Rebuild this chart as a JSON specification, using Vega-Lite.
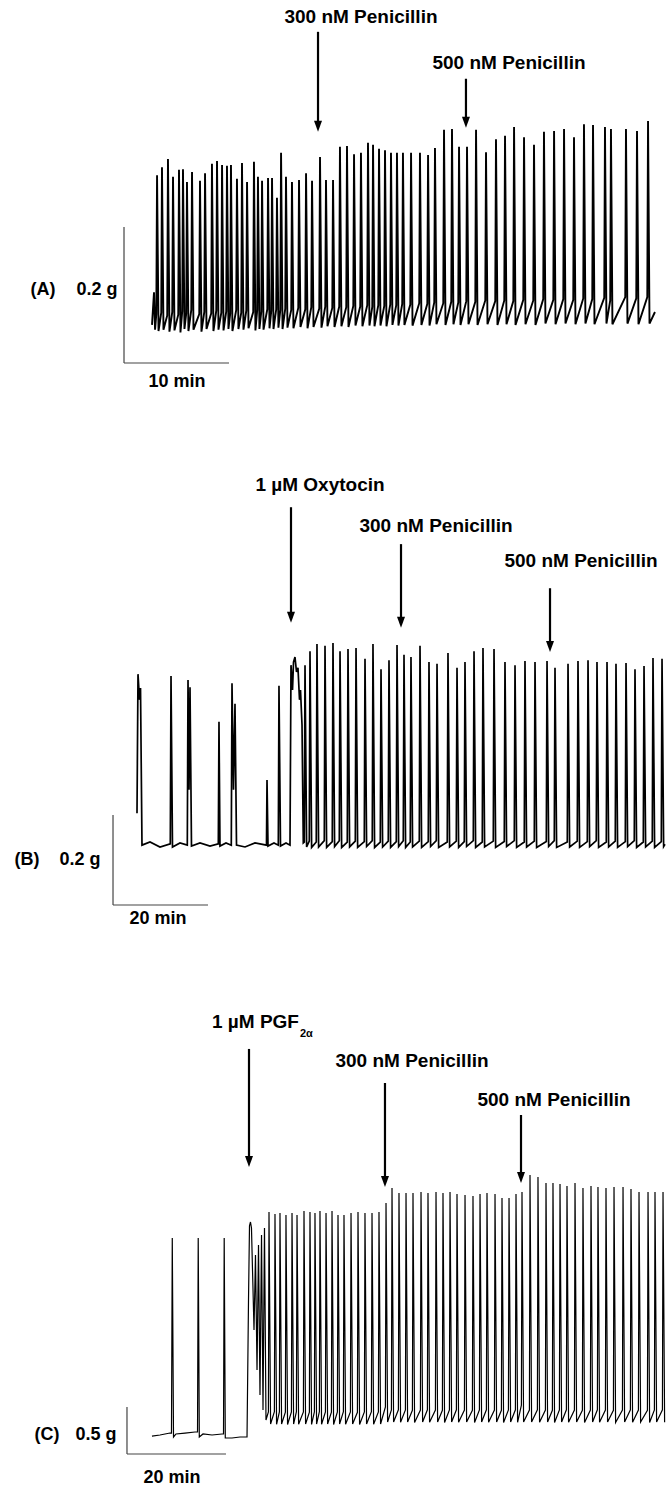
{
"$schema":"https://vega.github.io/schema/vega-lite/v6.json",
"padding":0,
"background":"white",
"spacing":0,
"config":{"view":{"stroke":null},"concat":{"spacing":0}},
"datasets":{
"A":[{"t":-0.19,"g":0.056},{"t":0,"g":0.104},{"t":0.1,"g":0.049},
{"t":0.22,"g":0.072},{"t":0.29,"g":0.276},{"t":0.43,"g":0.047},
{"t":0.69,"g":0.074},{"t":0.76,"g":0.288},{"t":0.9,"g":0.049},
{"t":1.26,"g":0.07},{"t":1.33,"g":0.3},{"t":1.47,"g":0.046},
{"t":1.74,"g":0.075},{"t":1.81,"g":0.274},{"t":1.95,"g":0.048},
{"t":2.31,"g":0.071},{"t":2.38,"g":0.284},{"t":2.52,"g":0.045},
{"t":2.69,"g":0.076},{"t":2.76,"g":0.285},{"t":2.9,"g":0.05},
{"t":3.07,"g":0.073},{"t":3.14,"g":0.266},{"t":3.28,"g":0.047},
{"t":3.55,"g":0.078},{"t":3.62,"g":0.281},{"t":3.76,"g":0.049},
{"t":4.31,"g":0.072},{"t":4.38,"g":0.268},{"t":4.52,"g":0.046},
{"t":4.79,"g":0.075},{"t":4.86,"g":0.279},{"t":5.0,"g":0.05},
{"t":5.45,"g":0.073},{"t":5.52,"g":0.293},{"t":5.66,"g":0.047},
{"t":5.93,"g":0.077},{"t":6.0,"g":0.297},{"t":6.14,"g":0.049},
{"t":6.41,"g":0.074},{"t":6.48,"g":0.291},{"t":6.62,"g":0.048},
{"t":6.88,"g":0.076},{"t":6.95,"g":0.29},{"t":7.09,"g":0.05},
{"t":7.26,"g":0.073},{"t":7.33,"g":0.291},{"t":7.47,"g":0.047},
{"t":7.83,"g":0.078},{"t":7.9,"g":0.271},{"t":8.04,"g":0.05},
{"t":8.31,"g":0.074},{"t":8.38,"g":0.294},{"t":8.52,"g":0.049},
{"t":8.79,"g":0.077},{"t":8.86,"g":0.266},{"t":9.0,"g":0.051},
{"t":9.45,"g":0.075},{"t":9.52,"g":0.296},{"t":9.66,"g":0.048},
{"t":9.83,"g":0.078},{"t":9.9,"g":0.274},{"t":10.04,"g":0.05},
{"t":10.22,"g":0.076},{"t":10.29,"g":0.268},{"t":10.43,"g":0.049},
{"t":10.79,"g":0.079},{"t":10.86,"g":0.272},{"t":11.0,"g":0.051},
{"t":11.17,"g":0.077},{"t":11.24,"g":0.272},{"t":11.38,"g":0.05},
{"t":11.64,"g":0.079},{"t":11.71,"g":0.243},{"t":11.85,"g":0.052},
{"t":12.03,"g":0.078},{"t":12.1,"g":0.309},{"t":12.24,"g":0.05},
{"t":12.5,"g":0.08},{"t":12.57,"g":0.274},{"t":12.71,"g":0.052},
{"t":13.07,"g":0.078},{"t":13.14,"g":0.266},{"t":13.28,"g":0.051},
{"t":13.74,"g":0.081},{"t":13.81,"g":0.269},{"t":13.95,"g":0.053},
{"t":14.41,"g":0.079},{"t":14.48,"g":0.279},{"t":14.62,"g":0.051},
{"t":14.98,"g":0.082},{"t":15.05,"g":0.268},{"t":15.19,"g":0.053},
{"t":15.74,"g":0.08},{"t":15.81,"g":0.303},{"t":15.95,"g":0.052},
{"t":16.31,"g":0.083},{"t":16.38,"g":0.269},{"t":16.52,"g":0.054},
{"t":16.98,"g":0.081},{"t":17.05,"g":0.269},{"t":17.19,"g":0.053},
{"t":17.64,"g":0.083},{"t":17.71,"g":0.318},{"t":17.85,"g":0.054},
{"t":18.31,"g":0.082},{"t":18.38,"g":0.319},{"t":18.52,"g":0.053},
{"t":18.98,"g":0.084},{"t":19.05,"g":0.307},{"t":19.19,"g":0.055},
{"t":19.64,"g":0.083},{"t":19.71,"g":0.309},{"t":19.85,"g":0.054},
{"t":20.31,"g":0.085},{"t":20.38,"g":0.324},{"t":20.52,"g":0.055},
{"t":20.79,"g":0.083},{"t":20.86,"g":0.321},{"t":21.0,"g":0.054},
{"t":21.36,"g":0.085},{"t":21.43,"g":0.315},{"t":21.57,"g":0.055},
{"t":21.93,"g":0.084},{"t":22.0,"g":0.313},{"t":22.14,"g":0.054},
{"t":22.5,"g":0.086},{"t":22.57,"g":0.309},{"t":22.71,"g":0.056},
{"t":23.07,"g":0.085},{"t":23.14,"g":0.309},{"t":23.28,"g":0.055},
{"t":23.64,"g":0.087},{"t":23.71,"g":0.309},{"t":23.85,"g":0.056},
{"t":24.41,"g":0.086},{"t":24.48,"g":0.309},{"t":24.62,"g":0.055},
{"t":25.26,"g":0.088},{"t":25.33,"g":0.309},{"t":25.47,"g":0.056},
{"t":26.03,"g":0.087},{"t":26.1,"g":0.306},{"t":26.24,"g":0.055},
{"t":26.69,"g":0.089},{"t":26.76,"g":0.316},{"t":26.9,"g":0.057},
{"t":27.55,"g":0.088},{"t":27.62,"g":0.343},{"t":27.76,"g":0.056},
{"t":28.31,"g":0.09},{"t":28.38,"g":0.344},{"t":28.52,"g":0.057},
{"t":28.98,"g":0.089},{"t":29.05,"g":0.318},{"t":29.19,"g":0.056},
{"t":29.74,"g":0.091},{"t":29.81,"g":0.318},{"t":29.95,"g":0.057},
{"t":30.6,"g":0.09},{"t":30.67,"g":0.343},{"t":30.81,"g":0.056},
{"t":31.55,"g":0.092},{"t":31.62,"g":0.31},{"t":31.76,"g":0.057},
{"t":32.5,"g":0.091},{"t":32.57,"g":0.329},{"t":32.71,"g":0.056},
{"t":33.36,"g":0.092},{"t":33.43,"g":0.334},{"t":33.57,"g":0.057},
{"t":34.22,"g":0.091},{"t":34.29,"g":0.347},{"t":34.43,"g":0.056},
{"t":35.17,"g":0.093},{"t":35.24,"g":0.332},{"t":35.38,"g":0.057},
{"t":36.12,"g":0.092},{"t":36.19,"g":0.321},{"t":36.33,"g":0.056},
{"t":37.07,"g":0.094},{"t":37.14,"g":0.34},{"t":37.28,"g":0.058},
{"t":38.03,"g":0.093},{"t":38.1,"g":0.341},{"t":38.24,"g":0.057},
{"t":38.98,"g":0.094},{"t":39.05,"g":0.344},{"t":39.19,"g":0.058},
{"t":39.93,"g":0.093},{"t":40.0,"g":0.332},{"t":40.14,"g":0.057},
{"t":40.88,"g":0.095},{"t":40.95,"g":0.351},{"t":41.09,"g":0.058},
{"t":41.74,"g":0.094},{"t":41.81,"g":0.35},{"t":41.95,"g":0.057},
{"t":42.88,"g":0.096},{"t":42.95,"g":0.347},{"t":43.09,"g":0.058},
{"t":43.45,"g":0.092},{"t":43.52,"g":0.344},{"t":43.66,"g":0.057},
{"t":44.88,"g":0.097},{"t":44.95,"g":0.344},{"t":45.09,"g":0.058},
{"t":45.93,"g":0.095},{"t":46.0,"g":0.341},{"t":46.14,"g":0.057},
{"t":46.98,"g":0.097},{"t":47.05,"g":0.356},{"t":47.19,"g":0.058},
{"t":47.71,"g":0.075}],
"B":[{"t":0,"g":0.204},{"t":0.21,"g":0.513},{"t":0.53,"g":0.456},{"t":0.74,"g":0.482},{"t":1.05,"g":0.133},
{"t":2.74,"g":0.14},{"t":4.84,"g":0.129},
{"t":7.01,"g":0.136},{"t":7.16,"g":0.509},{"t":7.47,"g":0.129},
{"t":9.05,"g":0.138},
{"t":10.59,"g":0.133},{"t":10.74,"g":0.5},{"t":10.95,"g":0.256},{"t":11.16,"g":0.484},{"t":11.47,"g":0.131},
{"t":13.26,"g":0.138},{"t":15.37,"g":0.131},
{"t":17.12,"g":0.136},{"t":17.26,"g":0.407},{"t":17.47,"g":0.131},
{"t":18.74,"g":0.138},
{"t":19.85,"g":0.133},{"t":20.0,"g":0.493},{"t":20.32,"g":0.256},{"t":20.63,"g":0.447},{"t":20.95,"g":0.133},
{"t":22.74,"g":0.129},{"t":24.84,"g":0.138},
{"t":27.26,"g":0.133},{"t":27.37,"g":0.278},{"t":27.58,"g":0.131},
{"t":28.84,"g":0.138},
{"t":29.75,"g":0.133},{"t":29.89,"g":0.487},{"t":30.21,"g":0.131},
{"t":31.37,"g":0.138},
{"t":32.21,"g":0.133},{"t":32.42,"g":0.533},{"t":32.74,"g":0.478},{"t":32.95,"g":0.54},{"t":33.26,"g":0.551},{"t":33.58,"g":0.518},{"t":33.89,"g":0.527},{"t":34.21,"g":0.456},{"t":34.42,"g":0.478},{"t":34.74,"g":0.4},{"t":35.01,"g":0.138},
{"t":35.22,"g":0.14},{"t":35.37,"g":0.533},{"t":35.71,"g":0.129},
{"t":36.27,"g":0.142},{"t":36.42,"g":0.564},{"t":36.76,"g":0.128},
{"t":37.74,"g":0.14},{"t":37.89,"g":0.58},{"t":38.23,"g":0.129},
{"t":39.43,"g":0.143},{"t":39.58,"g":0.576},{"t":39.92,"g":0.128},
{"t":41.11,"g":0.141},{"t":41.26,"g":0.582},{"t":41.6,"g":0.13},
{"t":42.59,"g":0.143},{"t":42.74,"g":0.564},{"t":43.08,"g":0.128},
{"t":44.27,"g":0.14},{"t":44.42,"g":0.569},{"t":44.76,"g":0.129},
{"t":45.96,"g":0.142},{"t":46.11,"g":0.571},{"t":46.45,"g":0.128},
{"t":47.85,"g":0.141},{"t":48.0,"g":0.547},{"t":48.34,"g":0.13},
{"t":49.53,"g":0.143},{"t":49.68,"g":0.58},{"t":50.02,"g":0.128},
{"t":51.22,"g":0.14},{"t":51.37,"g":0.524},{"t":51.71,"g":0.129},
{"t":52.9,"g":0.142},{"t":53.05,"g":0.544},{"t":53.39,"g":0.128},
{"t":54.59,"g":0.141},{"t":54.74,"g":0.578},{"t":55.08,"g":0.13},
{"t":56.06,"g":0.143},{"t":56.21,"g":0.556},{"t":56.55,"g":0.128},
{"t":57.53,"g":0.14},{"t":57.68,"g":0.551},{"t":58.02,"g":0.129},
{"t":59.43,"g":0.142},{"t":59.58,"g":0.576},{"t":59.92,"g":0.128},
{"t":61.32,"g":0.141},{"t":61.47,"g":0.54},{"t":61.81,"g":0.13},
{"t":63.01,"g":0.143},{"t":63.16,"g":0.536},{"t":63.5,"g":0.128},
{"t":65.32,"g":0.14},{"t":65.47,"g":0.56},{"t":65.81,"g":0.129},
{"t":67.22,"g":0.142},{"t":67.37,"g":0.527},{"t":67.71,"g":0.128},
{"t":68.9,"g":0.141},{"t":69.05,"g":0.54},{"t":69.39,"g":0.13},
{"t":70.8,"g":0.143},{"t":70.95,"g":0.564},{"t":71.29,"g":0.128},
{"t":72.69,"g":0.14},{"t":72.84,"g":0.571},{"t":73.18,"g":0.129},
{"t":75.01,"g":0.142},{"t":75.16,"g":0.569},{"t":75.5,"g":0.128},
{"t":77.32,"g":0.141},{"t":77.47,"g":0.54},{"t":77.81,"g":0.13},
{"t":79.43,"g":0.143},{"t":79.58,"g":0.533},{"t":79.92,"g":0.128},
{"t":81.53,"g":0.14},{"t":81.68,"g":0.542},{"t":82.02,"g":0.129},
{"t":83.64,"g":0.142},{"t":83.79,"g":0.54},{"t":84.13,"g":0.128},
{"t":86.17,"g":0.141},{"t":86.32,"g":0.542},{"t":86.66,"g":0.13},
{"t":87.85,"g":0.143},{"t":88.0,"g":0.527},{"t":88.34,"g":0.128},
{"t":90.59,"g":0.14},{"t":90.74,"g":0.536},{"t":91.08,"g":0.129},
{"t":92.69,"g":0.142},{"t":92.84,"g":0.542},{"t":93.18,"g":0.128},
{"t":94.8,"g":0.141},{"t":94.95,"g":0.544},{"t":95.29,"g":0.13},
{"t":96.69,"g":0.143},{"t":96.84,"g":0.54},{"t":97.18,"g":0.128},
{"t":98.8,"g":0.14},{"t":98.95,"g":0.54},{"t":99.29,"g":0.129},
{"t":100.69,"g":0.142},{"t":100.84,"g":0.536},{"t":101.18,"g":0.128},
{"t":102.8,"g":0.141},{"t":102.95,"g":0.538},{"t":103.29,"g":0.13},
{"t":104.69,"g":0.143},{"t":104.84,"g":0.524},{"t":105.18,"g":0.128},
{"t":106.59,"g":0.14},{"t":106.74,"g":0.531},{"t":107.08,"g":0.129},
{"t":108.48,"g":0.142},{"t":108.63,"g":0.549},{"t":108.97,"g":0.128},
{"t":110.38,"g":0.141},{"t":110.53,"g":0.547},{"t":110.87,"g":0.13},
{"t":111.16,"g":0.135}],
"C":[{"t":-0.61,"g":0.191},{"t":1.01,"g":0.202},{"t":3.03,"g":0.223},
{"t":3.33,"g":0.223},{"t":3.49,"g":2.298},{"t":3.74,"g":0.181},
{"t":4.24,"g":0.213},{"t":6.06,"g":0.223},{"t":8.08,"g":0.234},
{"t":8.59,"g":0.234},{"t":8.73,"g":2.298},{"t":8.95,"g":0.181},
{"t":9.7,"g":0.213},{"t":11.52,"g":0.202},{"t":13.54,"g":0.213},
{"t":13.84,"g":0.213},{"t":13.98,"g":2.298},{"t":14.2,"g":0.17},
{"t":15.56,"g":0.17},{"t":17.17,"g":0.181},{"t":18.59,"g":0.181},
{"t":18.89,"g":1.638},{"t":19.09,"g":2.426},{"t":19.29,"g":2.468},{"t":19.49,"g":2.404},{"t":20.0,"g":1.319},{"t":20.3,"g":2.117},{"t":20.61,"g":0.894},{"t":20.91,"g":2.223},{"t":21.21,"g":0.628},{"t":21.52,"g":2.33},{"t":21.82,"g":0.468},{"t":22.12,"g":2.404},{"t":22.42,"g":0.362},
{"t":22.91,"g":0.447},{"t":23.03,"g":2.574},{"t":23.35,"g":0.319},
{"t":24.12,"g":0.45},{"t":24.24,"g":2.553},{"t":24.56,"g":0.316},
{"t":25.13,"g":0.447},{"t":25.25,"g":2.564},{"t":25.57,"g":0.319},
{"t":26.34,"g":0.444},{"t":26.46,"g":2.543},{"t":26.78,"g":0.314},
{"t":27.56,"g":0.447},{"t":27.68,"g":2.564},{"t":28.0,"g":0.319},
{"t":28.57,"g":0.45},{"t":28.69,"g":2.543},{"t":29.01,"g":0.316},
{"t":29.98,"g":0.447},{"t":30.1,"g":2.585},{"t":30.42,"g":0.319},
{"t":31.19,"g":0.444},{"t":31.31,"g":2.574},{"t":31.63,"g":0.314},
{"t":32.2,"g":0.447},{"t":32.32,"g":2.564},{"t":32.64,"g":0.319},
{"t":33.21,"g":0.45},{"t":33.33,"g":2.585},{"t":33.65,"g":0.316},
{"t":34.43,"g":0.447},{"t":34.55,"g":2.564},{"t":34.87,"g":0.319},
{"t":35.64,"g":0.444},{"t":35.76,"g":2.585},{"t":36.08,"g":0.314},
{"t":36.85,"g":0.447},{"t":36.97,"g":2.543},{"t":37.29,"g":0.319},
{"t":38.06,"g":0.45},{"t":38.18,"g":2.543},{"t":38.5,"g":0.316},
{"t":39.48,"g":0.447},{"t":39.6,"g":2.564},{"t":39.92,"g":0.319},
{"t":40.89,"g":0.444},{"t":41.01,"g":2.574},{"t":41.33,"g":0.314},
{"t":42.3,"g":0.447},{"t":42.42,"g":2.564},{"t":42.74,"g":0.319},
{"t":43.72,"g":0.45},{"t":43.84,"g":2.564},{"t":44.16,"g":0.316},
{"t":45.13,"g":0.447},{"t":45.25,"g":2.574},{"t":45.57,"g":0.319},
{"t":46.55,"g":0.5},{"t":46.67,"g":2.67},{"t":46.99,"g":0.34},
{"t":47.76,"g":0.468},{"t":47.88,"g":2.83},{"t":48.2,"g":0.34},
{"t":49.17,"g":0.47},{"t":49.29,"g":2.777},{"t":49.61,"g":0.337},
{"t":50.59,"g":0.468},{"t":50.71,"g":2.777},{"t":51.03,"g":0.34},
{"t":52.0,"g":0.465},{"t":52.12,"g":2.777},{"t":52.44,"g":0.335},
{"t":53.62,"g":0.468},{"t":53.74,"g":2.787},{"t":54.06,"g":0.34},
{"t":55.03,"g":0.47},{"t":55.15,"g":2.777},{"t":55.47,"g":0.337},
{"t":56.65,"g":0.468},{"t":56.77,"g":2.787},{"t":57.09,"g":0.34},
{"t":58.06,"g":0.465},{"t":58.18,"g":2.777},{"t":58.5,"g":0.335},
{"t":59.48,"g":0.468},{"t":59.6,"g":2.787},{"t":59.92,"g":0.34},
{"t":60.89,"g":0.47},{"t":61.01,"g":2.766},{"t":61.33,"g":0.337},
{"t":62.51,"g":0.468},{"t":62.63,"g":2.755},{"t":62.95,"g":0.34},
{"t":64.12,"g":0.465},{"t":64.24,"g":2.745},{"t":64.56,"g":0.335},
{"t":65.54,"g":0.468},{"t":65.66,"g":2.766},{"t":65.98,"g":0.34},
{"t":66.95,"g":0.47},{"t":67.07,"g":2.777},{"t":67.39,"g":0.337},
{"t":68.57,"g":0.468},{"t":68.69,"g":2.766},{"t":69.01,"g":0.34},
{"t":69.98,"g":0.465},{"t":70.1,"g":2.723},{"t":70.42,"g":0.335},
{"t":71.4,"g":0.468},{"t":71.52,"g":2.723},{"t":71.84,"g":0.34},
{"t":72.81,"g":0.47},{"t":72.93,"g":2.766},{"t":73.25,"g":0.337},
{"t":74.02,"g":0.52},{"t":74.14,"g":2.787},{"t":74.46,"g":0.34},
{"t":75.64,"g":0.468},{"t":75.76,"g":2.968},{"t":76.08,"g":0.34},
{"t":77.25,"g":0.47},{"t":77.37,"g":2.947},{"t":77.69,"g":0.337},
{"t":78.87,"g":0.468},{"t":78.99,"g":2.883},{"t":79.31,"g":0.34},
{"t":80.28,"g":0.465},{"t":80.4,"g":2.883},{"t":80.72,"g":0.335},
{"t":81.7,"g":0.468},{"t":81.82,"g":2.872},{"t":82.14,"g":0.34},
{"t":83.11,"g":0.47},{"t":83.23,"g":2.851},{"t":83.55,"g":0.337},
{"t":84.73,"g":0.468},{"t":84.85,"g":2.883},{"t":85.17,"g":0.34},
{"t":86.34,"g":0.465},{"t":86.46,"g":2.83},{"t":86.78,"g":0.335},
{"t":87.96,"g":0.468},{"t":88.08,"g":2.851},{"t":88.4,"g":0.34},
{"t":89.37,"g":0.47},{"t":89.49,"g":2.84},{"t":89.81,"g":0.337},
{"t":90.99,"g":0.468},{"t":91.11,"g":2.83},{"t":91.43,"g":0.34},
{"t":92.61,"g":0.465},{"t":92.73,"g":2.84},{"t":93.05,"g":0.335},
{"t":94.43,"g":0.468},{"t":94.55,"g":2.84},{"t":94.87,"g":0.34},
{"t":96.04,"g":0.47},{"t":96.16,"g":2.819},{"t":96.48,"g":0.337},
{"t":97.66,"g":0.468},{"t":97.78,"g":2.787},{"t":98.1,"g":0.34},
{"t":99.48,"g":0.465},{"t":99.6,"g":2.787},{"t":99.92,"g":0.335},
{"t":100.89,"g":0.468},{"t":101.01,"g":2.787},{"t":101.33,"g":0.34},
{"t":102.51,"g":0.47},{"t":102.63,"g":2.787},{"t":102.95,"g":0.337}]
},
"vconcat":[
{"width":668,"height":430,
"encoding":{"x":{"field":"t","type":"quantitative","axis":null,"scale":{"domain":[-14.667,48.952],"nice":false,"zero":false}},
"y":{"field":"g","type":"quantitative","axis":null,"scale":{"domain":[-0.0985,0.5338],"nice":false,"zero":false}}},
"layer":[
{"data":{"name":"A"},"mark":{"type":"line","color":"#000","strokeWidth":1.9},"encoding":{}},
{"data":{"values":[{"t":-2.857,"g":0,"t2":-2.857,"g2":0.2},{"t":-2.857,"g":0,"t2":7.143,"g2":0}]},"mark":{"type":"rule","color":"#444","strokeWidth":1.2},"encoding":{"x2":{"field":"t2"},"y2":{"field":"g2"}}},
{"data":{"values":[{"t":15.62,"g":0.487,"g2":0.347},{"t":29.71,"g":0.418,"g2":0.353}]},"mark":{"type":"rule","color":"#000","strokeWidth":2.2},"encoding":{"y2":{"field":"g2"}}},
{"data":{"values":[{"t":15.62,"g":0.34},{"t":29.71,"g":0.346}]},"mark":{"type":"point","shape":"M-0.8,-2.2L0.8,-2.2L0,0Z","filled":true,"size":100,"color":"#000","opacity":1,"strokeWidth":0}},
{"data":{"values":[{"t":19.71,"g":0.509,"label":"300 nM Penicillin"},{"t":33.81,"g":0.441,"label":"500 nM Penicillin"}]},"mark":{"type":"text","font":"Liberation Sans","fontWeight":"bold","fontSize":19,"align":"center","baseline":"middle","color":"#000"},"encoding":{"text":{"field":"label"}}},
{"data":{"values":[{"t":-10.57,"g":0.107,"label":"(A)"},{"t":-5.43,"g":0.107,"label":"0.2 g"},{"t":2.19,"g":-0.028,"label":"10 min"}]},"mark":{"type":"text","font":"Liberation Sans","fontWeight":"bold","fontSize":18,"align":"center","baseline":"middle","color":"#000"},"encoding":{"text":{"field":"label"}}}
]},
{"width":668,"height":535,
"encoding":{"x":{"field":"t","type":"quantitative","axis":null,"scale":{"domain":[-28.842,111.789],"nice":false,"zero":false}},
"y":{"field":"g","type":"quantitative","axis":null,"scale":{"domain":[-0.1333,1.0556],"nice":false,"zero":false}}},
"layer":[
{"data":{"name":"B"},"mark":{"type":"line","color":"#000","strokeWidth":1.7},"encoding":{}},
{"data":{"values":[{"t":-5.05,"g":0,"t2":-5.05,"g2":0.2},{"t":-5.05,"g":0,"t2":14.95,"g2":0}]},"mark":{"type":"rule","color":"#444","strokeWidth":1.2},"encoding":{"x2":{"field":"t2"},"y2":{"field":"g2"}}},
{"data":{"values":[{"t":32.42,"g":0.884,"g2":0.638},{"t":55.58,"g":0.802,"g2":0.627},{"t":86.95,"g":0.704,"g2":0.573}]},"mark":{"type":"rule","color":"#000","strokeWidth":2.2},"encoding":{"y2":{"field":"g2"}}},
{"data":{"values":[{"t":32.42,"g":0.627},{"t":55.58,"g":0.616},{"t":86.95,"g":0.562}]},"mark":{"type":"point","shape":"M-0.8,-2.2L0.8,-2.2L0,0Z","filled":true,"size":100,"color":"#000","opacity":1,"strokeWidth":0}},
{"data":{"values":[{"t":38.53,"g":0.933,"label":"1 µM Oxytocin"},{"t":62.95,"g":0.842,"label":"300 nM Penicillin"},{"t":93.47,"g":0.764,"label":"500 nM Penicillin"}]},"mark":{"type":"text","font":"Liberation Sans","fontWeight":"bold","fontSize":19,"align":"center","baseline":"middle","color":"#000"},"encoding":{"text":{"field":"label"}}},
{"data":{"values":[{"t":-23.16,"g":0.1,"label":"(B)"},{"t":-12.0,"g":0.1,"label":"0.2 g"},{"t":4.42,"g":-0.031,"label":"20 min"}]},"mark":{"type":"text","font":"Liberation Sans","fontWeight":"bold","fontSize":18,"align":"center","baseline":"middle","color":"#000"},"encoding":{"text":{"field":"label"}}}
]},
{"width":668,"height":525,
"encoding":{"x":{"field":"t","type":"quantitative","axis":null,"scale":{"domain":[-31.313,103.636],"nice":false,"zero":false}},
"y":{"field":"g","type":"quantitative","axis":null,"scale":{"domain":[-0.383,5.202],"nice":false,"zero":false}}},
"layer":[
{"data":{"name":"C"},"mark":{"type":"line","color":"#000","strokeWidth":1.2},"encoding":{}},
{"data":{"values":[{"t":-5.66,"g":0,"t2":-5.66,"g2":0.5},{"t":-5.66,"g":0,"t2":14.34,"g2":0}]},"mark":{"type":"rule","color":"#444","strokeWidth":1.2},"encoding":{"x2":{"field":"t2"},"y2":{"field":"g2"}}},
{"data":{"values":[{"t":18.99,"g":4.309,"g2":3.106},{"t":46.46,"g":3.947,"g2":2.893},{"t":73.94,"g":3.606,"g2":2.936}]},"mark":{"type":"rule","color":"#000","strokeWidth":2.2},"encoding":{"y2":{"field":"g2"}}},
{"data":{"values":[{"t":18.99,"g":3.053},{"t":46.46,"g":2.84},{"t":73.94,"g":2.883}]},"mark":{"type":"point","shape":"M-0.8,-2.2L0.8,-2.2L0,0Z","filled":true,"size":100,"color":"#000","opacity":1,"strokeWidth":0}},
{"data":{"values":[{"t":51.92,"g":4.181,"label":"300 nM Penicillin"},{"t":80.61,"g":3.766,"label":"500 nM Penicillin"}]},"mark":{"type":"text","font":"Liberation Sans","fontWeight":"bold","fontSize":19,"align":"center","baseline":"middle","color":"#000"},"encoding":{"text":{"field":"label"}}},
{"data":{"values":[{"t":11.52,"g":4.596,"label":"1 µM PGF"}]},"mark":{"type":"text","font":"Liberation Sans","fontWeight":"bold","fontSize":19,"align":"left","baseline":"middle","color":"#000"},"encoding":{"text":{"field":"label"}}},
{"data":{"values":[{"t":29.29,"g":4.468,"label":"2α"}]},"mark":{"type":"text","font":"Liberation Sans","fontWeight":"bold","fontSize":11,"align":"left","baseline":"middle","color":"#000"},"encoding":{"text":{"field":"label"}}},
{"data":{"values":[{"t":-21.82,"g":0.202,"label":"(C)"},{"t":-11.92,"g":0.202,"label":"0.5 g"},{"t":3.43,"g":-0.255,"label":"20 min"}]},"mark":{"type":"text","font":"Liberation Sans","fontWeight":"bold","fontSize":18,"align":"center","baseline":"middle","color":"#000"},"encoding":{"text":{"field":"label"}}}
]}
]
}
